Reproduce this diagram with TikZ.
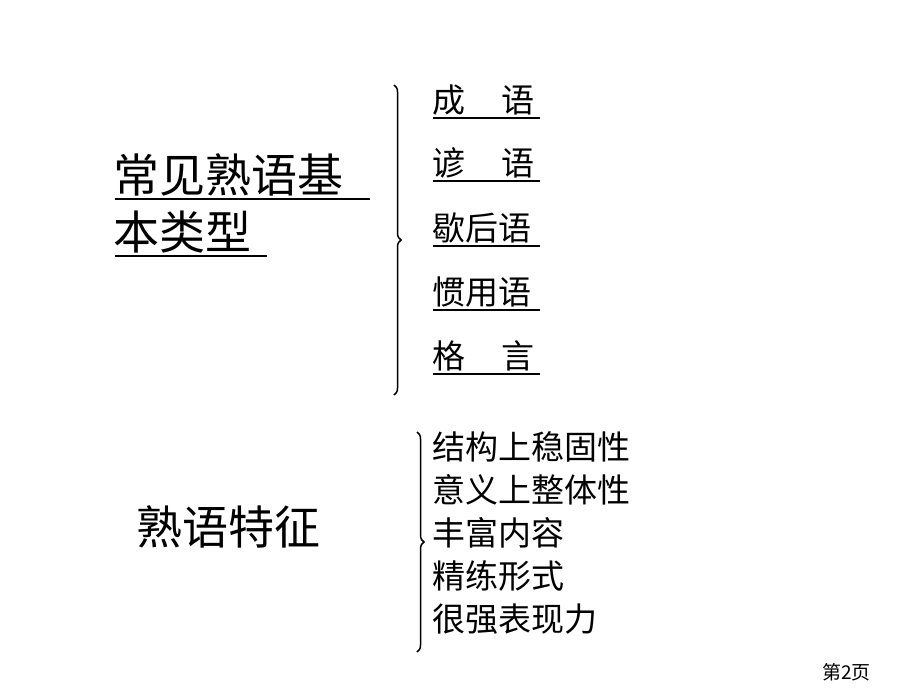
\documentclass[tikz,border=0pt]{standalone}
\usepackage{fontspec}
\newfontfamily\cjk{Noto Sans CJK SC}
\usetikzlibrary{decorations.pathreplacing}
\begin{document}
\begin{tikzpicture}[x=1pt,y=-1pt,
  big/.style={font=\cjk\fontsize{46}{54}\selectfont,anchor=west,inner sep=0pt},
  item/.style={font=\cjk\fontsize{33}{38}\selectfont,anchor=west,inner sep=0pt},
  ul/.style={line width=1.2pt},
  br/.style={decorate,decoration={brace,amplitude=7pt,aspect=0.5},line width=1.5pt}]
\useasboundingbox (0,0) rectangle (920,690);
\node[big] (t1) at (113,175) {常见熟语基};
\node[big] (t2) at (113,232) {本类型};
\draw[ul] (115,199) -- (370,199);
\draw[ul] (115,256) -- (267,256);
\coordinate (b1t) at (394,85);
\coordinate (b1b) at (394,395);
\draw[br] (b1t) -- (b1b);
\foreach \n/\y/\t in {a/100/成\hspace{1.1em}语,b/163/谚\hspace{1.1em}语,c/228/歇后语,d/292/惯用语,e/356/格\hspace{1.1em}言}{
  \node[item] (\n) at (432,\y) {\t};
  \draw[ul] (433,\y+18) -- (540,\y+18);
}
\node[big] (t3) at (136,527) {熟语特征};
\coordinate (b2t) at (417,432);
\coordinate (b2b) at (417,652);
\draw[br] (b2t) -- (b2b);
\foreach \n/\y/\t in {f/447/结构上稳固性,g/490/意义上整体性,h/533/丰富内容,i/576/精练形式,j/619/很强表现力}{
  \node[item] (\n) at (432,\y) {\t};
}
\node[font=\cjk\fontsize{19}{22}\selectfont,anchor=west,inner sep=0pt] (p) at (822,672) {第2页};
\end{tikzpicture}
\end{document}
